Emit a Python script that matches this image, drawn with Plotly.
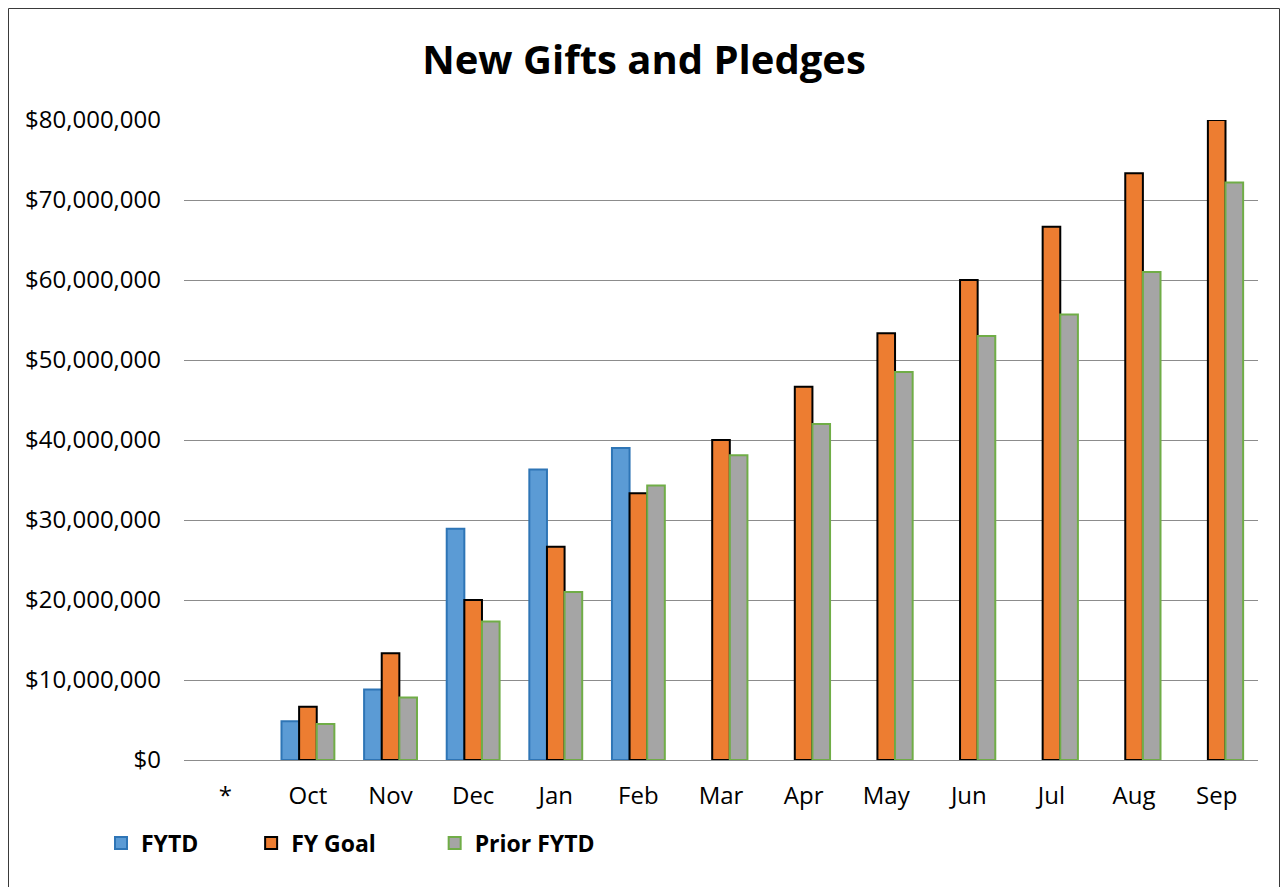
import plotly.graph_objects as go

categories = ["*", "Oct", "Nov", "Dec", "Jan", "Feb", "Mar", "Apr", "May", "Jun", "Jul", "Aug", "Sep"]
fytd = [None, 4.85e6, 8.8e6, 28.9e6, 36.3e6, 39.0e6, None, None, None, None, None, None, None]
fy_goal = [None, 6.67e6, 13.33e6, 20.0e6, 26.67e6, 33.33e6, 40.0e6, 46.67e6, 53.33e6, 60.0e6, 66.67e6, 73.33e6, 80.0e6]
prior_fytd = [None, 4.5e6, 7.8e6, 17.3e6, 21.0e6, 34.3e6, 38.1e6, 42.0e6, 48.5e6, 53.0e6, 55.7e6, 61.0e6, 72.2e6]
y_ticks = [0, 10e6, 20e6, 30e6, 40e6, 50e6, 60e6, 70e6, 80e6]
y_tick_labels = ["$0", "$10,000,000", "$20,000,000", "$30,000,000", "$40,000,000",
                 "$50,000,000", "$60,000,000", "$70,000,000", "$80,000,000"]
series_names = ["FYTD", "FY Goal", "Prior FYTD"]

FONT = "Open Sans"
NB = "\u00a0"

fig = go.Figure()
fig.add_trace(go.Bar(x=categories, y=fytd, name=series_names[0] + NB * 8,
                     marker=dict(color="#5B9BD5", line=dict(color="#2E75B6", width=2))))
fig.add_trace(go.Bar(x=categories, y=fy_goal, name=series_names[1] + NB * 9,
                     marker=dict(color="#ED7D31", line=dict(color="#000000", width=2))))
fig.add_trace(go.Bar(x=categories, y=prior_fytd, name=series_names[2],
                     marker=dict(color="#A5A5A5", line=dict(color="#70AD47", width=2))))

# page body has 8px margin -> figure div is 1272x879 placed at (8, 8)
OFF = 8
W, H = 1288 - 2 * OFF, 895 - 2 * OFF
L, T = 184 - OFF, 120 - OFF
R = W - (1258 - OFF)
B = H - (760 - OFF)
PW, PH = W - L - R, H - T - B

def px_x(xwin):
    return (xwin - OFF - L) / PW

def px_y(ywin):
    return ((H - B) - (ywin - OFF)) / PH

fig.update_layout(
    barmode="group",
    bargap=0.36,
    bargroupgap=0,
    plot_bgcolor="white",
    paper_bgcolor="white",
    margin=dict(l=L, r=R, t=T, b=B),
    font=dict(family=FONT, color="#000000"),
    title=dict(text="<b>New Gifts and Pledges</b>", x=0.5, xanchor="center",
               xref="container", y=1 - (60 - OFF) / H, yref="container", yanchor="middle",
               font=dict(size=40, family=FONT, color="#000000")),
    xaxis=dict(type="category", showgrid=False, showline=True, linecolor="#8C8C8C",
               linewidth=1, ticks="", tickfont=dict(size=24, family=FONT),
               ticklabelstandoff=14),
    yaxis=dict(range=[0, 80e6], tickvals=y_ticks, ticktext=y_tick_labels,
               showgrid=True, gridcolor="#8C8C8C", gridwidth=1, zeroline=False,
               showline=False, ticks="", tickfont=dict(size=24, family=FONT),
               ticklabelstandoff=22),
    legend=dict(orientation="h", x=px_x(101), xanchor="left", y=px_y(843), yanchor="middle",
                font=dict(size=23, family=FONT, color="#000000", weight="bold"),
                itemclick=False, traceorder="normal"),
    shapes=[dict(type="rect", xref="paper", yref="paper",
                 x0=px_x(8.5), x1=px_x(1279.5), y0=px_y(905), y1=px_y(8.5),
                 line=dict(color="#3A3A3A", width=1), fillcolor="rgba(0,0,0,0)", layer="below")],
)

fig.write_html("out.html")
